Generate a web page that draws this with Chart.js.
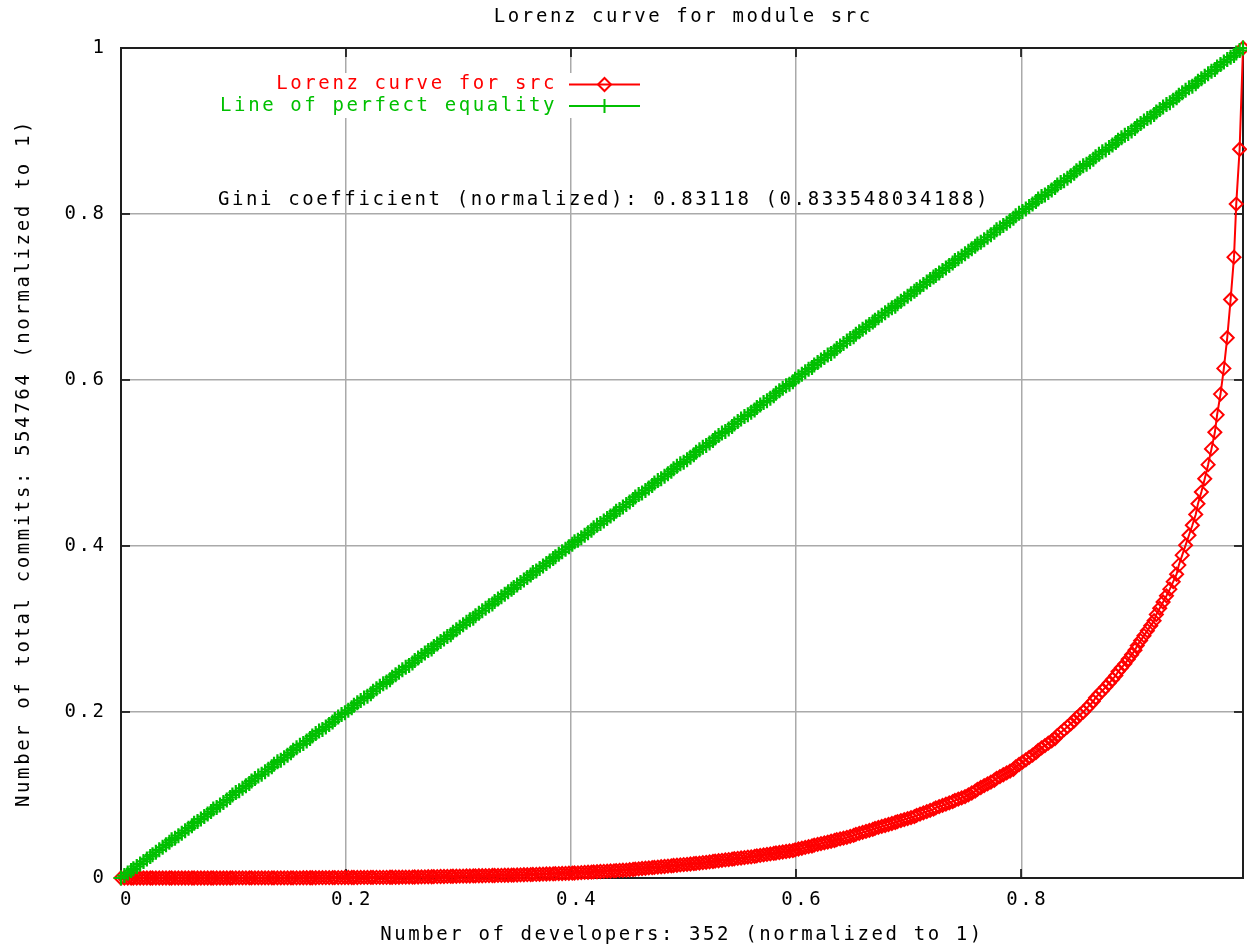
<!DOCTYPE html>
<html>
<head>
<meta charset="utf-8">
<script src="https://cdn.jsdelivr.net/npm/chart.js@4.4.1/dist/chart.umd.min.js"></script>
<style>
html,body{margin:0;padding:0;background:#ffffff;}
canvas{display:block;}
</style>
</head>
<body>
<canvas id="c" width="1247" height="946"></canvas>
<script>
// ---- data: developer rank share (x), cumulative commit share (Lorenz), equality line ----
const devShare = [
0.000,0.003,0.006,0.009,0.011,0.014,0.017,0.020,0.023,0.026,
0.028,0.031,0.034,0.037,0.040,0.043,0.045,0.048,0.051,0.054,
0.057,0.060,0.063,0.065,0.068,0.071,0.074,0.077,0.080,0.082,
0.085,0.088,0.091,0.094,0.097,0.099,0.102,0.105,0.108,0.111,
0.114,0.116,0.119,0.122,0.125,0.128,0.131,0.134,0.136,0.139,
0.142,0.145,0.148,0.151,0.153,0.156,0.159,0.162,0.165,0.168,
0.170,0.173,0.176,0.179,0.182,0.185,0.188,0.190,0.193,0.196,
0.199,0.202,0.205,0.207,0.210,0.213,0.216,0.219,0.222,0.224,
0.227,0.230,0.233,0.236,0.239,0.241,0.244,0.247,
0.250,0.253,0.256,0.259,0.261,0.264,0.267,0.270,0.273,0.276,
0.278,0.281,0.284,0.287,0.290,0.293,0.295,0.298,0.301,0.304,
0.307,0.310,0.313,0.315,0.318,0.321,0.324,0.327,0.330,0.332,
0.335,0.338,0.341,0.344,0.347,0.349,0.352,0.355,0.358,0.361,
0.364,0.366,0.369,0.372,0.375,0.378,0.381,0.384,0.386,0.389,
0.392,0.395,0.398,0.401,0.403,0.406,0.409,0.412,0.415,0.418,
0.420,0.423,0.426,0.429,0.432,0.435,0.438,0.440,0.443,0.446,
0.449,0.452,0.455,0.457,0.460,0.463,0.466,0.469,0.472,0.474,
0.477,0.480,0.483,0.486,0.489,0.491,0.494,0.497,
0.500,0.503,0.506,0.509,0.511,0.514,0.517,0.520,0.523,0.526,
0.528,0.531,0.534,0.537,0.540,0.543,0.545,0.548,0.551,0.554,
0.557,0.560,0.563,0.565,0.568,0.571,0.574,0.577,0.580,0.582,
0.585,0.588,0.591,0.594,0.597,0.599,0.602,0.605,0.608,0.611,
0.614,0.616,0.619,0.622,0.625,0.628,0.631,0.634,0.636,0.639,
0.642,0.645,0.648,0.651,0.653,0.656,0.659,0.662,0.665,0.668,
0.670,0.673,0.676,0.679,0.682,0.685,0.688,0.690,0.693,0.696,
0.699,0.702,0.705,0.707,0.710,0.713,0.716,0.719,0.722,0.724,
0.727,0.730,0.733,0.736,0.739,0.741,0.744,0.747,
0.750,0.753,0.756,0.759,0.761,0.764,0.767,0.770,0.773,0.776,
0.778,0.781,0.784,0.787,0.790,0.793,0.795,0.798,0.801,0.804,
0.807,0.810,0.813,0.815,0.818,0.821,0.824,0.827,0.830,0.832,
0.835,0.838,0.841,0.844,0.847,0.849,0.852,0.855,0.858,0.861,
0.864,0.866,0.869,0.872,0.875,0.878,0.881,0.884,0.886,0.889,
0.892,0.895,0.898,0.901,0.903,0.906,0.909,0.912,0.915,0.918,
0.920,0.923,0.926,0.929,0.932,0.935,0.938,0.940,0.943,0.946,
0.949,0.952,0.955,0.957,0.960,0.963,0.966,0.969,0.972,0.974,
0.977,0.980,0.983,0.986,0.989,0.991,0.994,0.997
];

const lorenzShare = [
0,0,0,0,0,0,0,0,0,0,
0,0,0,0,0,0,0,0,0,0,
0,0,0,0,0,0,0,0,0,0,
0,0,0,0,0,0.0001,0.0001,0.0001,0.0001,0.0001,
0.0001,0.0001,0.0001,0.0001,0.0001,0.0001,0.0001,0.0001,0.0001,0.0001,
0.0001,0.0001,0.0001,0.0002,0.0002,0.0002,0.0002,0.0003,0.0003,0.0003,
0.0003,0.0003,0.0004,0.0004,0.0004,0.0004,0.0005,0.0005,0.0005,0.0005,
0.0006,0.0006,0.0006,0.0006,0.0006,0.0007,0.0007,0.0007,0.0007,0.0008,
0.0008,0.0008,0.0008,0.0008,0.0009,0.0009,0.0009,0.0009,0.0010,0.0010,
0.0010,0.0011,0.0012,0.0012,0.0013,0.0014,0.0015,0.0015,0.0016,0.0017,
0.0018,0.0018,0.0019,0.0020,0.0021,0.0021,0.0022,0.0023,0.0024,0.0024,
0.0025,0.0026,0.0027,0.0027,0.0028,0.0029,0.0030,0.0030,0.0031,0.0032,
0.0033,0.0033,0.0034,0.0035,0.0036,0.0038,0.0039,0.0040,0.0041,0.0043,
0.0044,0.0045,0.0047,0.0048,0.0049,0.0050,0.0052,0.0053,0.0054,0.0055,
0.0057,0.0058,0.0060,0.0062,0.0065,0.0067,0.0069,0.0071,0.0073,0.0075,
0.0078,0.0080,0.0082,0.0084,0.0086,0.0089,0.0091,0.0093,0.0095,0.0099,
0.0102,0.0106,0.0110,0.0114,0.0117,0.0121,0.0125,0.0128,0.0132,0.0136,
0.0139,0.0143,0.0147,0.0151,0.0154,0.0158,0.0162,0.0165,0.0169,0.0173,
0.0176,0.0180,0.0185,0.0189,0.0194,0.0199,0.0204,0.0208,0.0213,0.0218,
0.0222,0.0227,0.0232,0.0236,0.0241,0.0246,0.0251,0.0255,0.0261,0.0267,
0.0272,0.0278,0.0284,0.0290,0.0296,0.0301,0.0307,0.0313,0.0319,0.0325,
0.0330,0.0339,0.0349,0.0358,0.0368,0.0377,0.0386,0.0396,0.0405,0.0415,
0.0424,0.0433,0.0443,0.0452,0.0462,0.0471,0.0480,0.0490,0.0502,0.0514,
0.0526,0.0538,0.0550,0.0561,0.0573,0.0585,0.0597,0.0609,0.0621,0.0633,
0.0645,0.0657,0.0669,0.0680,0.0692,0.0704,0.0716,0.0728,0.0740,0.0755,
0.0770,0.0785,0.0800,0.0815,0.0830,0.0845,0.0860,0.0875,0.0890,0.0905,
0.0920,0.0935,0.0950,0.0965,0.0980,0.1002,0.1024,0.1046,0.1068,0.1090,
0.1112,0.1134,0.1156,0.1178,0.1200,0.1222,0.1244,0.1266,0.1288,0.1310,
0.1339,0.1367,0.1396,0.1424,0.1453,0.1481,0.1510,0.1538,0.1567,0.1595,
0.1624,0.1652,0.1681,0.1716,0.1751,0.1787,0.1822,0.1858,0.1894,0.1929,
0.1965,0.2000,0.2043,0.2086,0.2129,0.2172,0.2215,0.2257,0.2300,0.2347,
0.2393,0.2440,0.2487,0.2533,0.2580,0.2635,0.2690,0.2745,0.2800,0.2860,
0.2920,0.2980,0.3040,0.3100,0.3175,0.3250,0.3325,0.3400,0.3480,0.3570,
0.3660,0.3770,0.3890,0.4010,0.4130,0.4250,0.4380,0.4510,0.4650,0.4810,
0.4980,0.5170,0.5370,0.5580,0.5830,0.6140,0.6510,0.6970,0.7480,0.8120,
0.8780,1.0000
];

const equalityShare = [
0.000,0.003,0.006,0.009,0.011,0.014,0.017,0.020,0.023,0.026,
0.028,0.031,0.034,0.037,0.040,0.043,0.046,0.048,0.051,0.054,
0.057,0.060,0.063,0.066,0.068,0.071,0.074,0.077,0.080,0.083,
0.085,0.088,0.091,0.094,0.097,0.100,0.103,0.105,0.108,0.111,
0.114,0.117,0.120,0.123,0.125,0.128,0.131,0.134,0.137,0.140,
0.142,0.145,0.148,0.151,0.154,0.157,0.160,0.162,0.165,0.168,
0.171,0.174,0.177,0.179,0.182,0.185,0.188,0.191,0.194,0.197,
0.199,0.202,0.205,0.208,0.211,0.214,0.217,0.219,0.222,0.225,
0.228,0.231,0.234,0.236,0.239,0.242,0.245,0.248,0.251,0.254,
0.256,0.259,0.262,0.265,0.268,0.271,0.274,0.276,0.279,0.282,
0.285,0.288,0.291,0.293,0.296,0.299,0.302,0.305,0.308,0.311,
0.313,0.316,0.319,0.322,0.325,0.328,0.330,
0.333,0.336,0.339,0.342,0.345,0.348,0.350,0.353,0.356,0.359,
0.362,0.365,0.368,0.370,0.373,0.376,0.379,0.382,0.385,0.387,
0.390,0.393,0.396,0.399,0.402,0.405,0.407,0.410,0.413,0.416,
0.419,0.422,0.425,0.427,0.430,0.433,0.436,0.439,0.442,0.444,
0.447,0.450,0.453,0.456,0.459,0.462,0.464,0.467,0.470,0.473,
0.476,0.479,0.481,0.484,0.487,0.490,0.493,0.496,0.499,0.501,
0.504,0.507,0.510,0.513,0.516,0.519,0.521,0.524,0.527,0.530,
0.533,0.536,0.538,0.541,0.544,0.547,0.550,0.553,0.556,0.558,
0.561,0.564,0.567,0.570,0.573,0.575,0.578,0.581,0.584,0.587,
0.590,0.593,0.595,0.598,0.601,0.604,0.607,0.610,0.613,0.615,
0.618,0.621,0.624,0.627,0.630,0.632,0.635,0.638,0.641,0.644,
0.647,0.650,0.652,0.655,0.658,0.661,0.664,
0.667,0.670,0.672,0.675,0.678,0.681,0.684,0.687,0.689,0.692,
0.695,0.698,0.701,0.704,0.707,0.709,0.712,0.715,0.718,0.721,
0.724,0.726,0.729,0.732,0.735,0.738,0.741,0.744,0.746,0.749,
0.752,0.755,0.758,0.761,0.764,0.766,0.769,0.772,0.775,0.778,
0.781,0.783,0.786,0.789,0.792,0.795,0.798,0.801,0.803,0.806,
0.809,0.812,0.815,0.818,0.821,0.823,0.826,0.829,0.832,0.835,
0.838,0.840,0.843,0.846,0.849,0.852,0.855,0.858,0.860,0.863,
0.866,0.869,0.872,0.875,0.877,0.880,0.883,0.886,0.889,0.892,
0.895,0.897,0.900,0.903,0.906,0.909,0.912,0.915,0.917,0.920,
0.923,0.926,0.929,0.932,0.934,0.937,0.940,0.943,0.946,0.949,
0.952,0.954,0.957,0.960,0.963,0.966,0.969,0.972,0.974,0.977,
0.980,0.983,0.986,0.989,0.991,0.994,0.997,1.000
];

const xTickLabels = ['0', '0.2', '0.4', '0.6', '0.8'];
const yTickLabels = ['0', '0.2', '0.4', '0.6', '0.8', '1'];
const seriesNames = ['Lorenz curve for src', 'Line of perfect equality'];
const chartTitle = 'Lorenz curve for module src';
const giniNote = 'Gini coefficient (normalized): 0.83118 (0.833548034188)';
const xAxisTitle = 'Number of developers: 352 (normalized to 1)';
const yAxisTitle = 'Number of total commits: 554764 (normalized to 1)';

// ---- styles ----
const RED = '#ff0000';
const GREEN = '#00c000';
const FONT_FAMILY = "'DejaVu Sans Mono', monospace";
const FONT_SIZE = 19;
const LETTER_SP = '2.6px';
const TICK_LEN = 9;

const n = Math.min(devShare.length, lorenzShare.length, equalityShare.length);
const lorenzPoints = [];
const equalityPoints = [];
for (let i = 0; i < n; i++) {
  lorenzPoints.push({x: devShare[i], y: lorenzShare[i]});
  equalityPoints.push({x: devShare[i], y: equalityShare[i]});
}

function drawMarker(ctx, style, x, y, r) {
  ctx.beginPath();
  if (style === 'rectRot') {
    ctx.moveTo(x - r, y); ctx.lineTo(x, y - r); ctx.lineTo(x + r, y); ctx.lineTo(x, y + r); ctx.closePath();
  } else {
    ctx.moveTo(x - r, y); ctx.lineTo(x + r, y); ctx.moveTo(x, y - r); ctx.lineTo(x, y + r);
  }
  ctx.stroke();
}

const decor = {
  id: 'decor',
  beforeDraw(chart) { chart.ctx.letterSpacing = LETTER_SP; },
  beforeDatasetsDraw(chart) {
    const {ctx, chartArea: a, scales} = chart;
    ctx.save();
    // opaque key box (hides grid behind the key)
    ctx.fillStyle = '#ffffff';
    ctx.fillRect(208, 73, 447, 45);
    // inward tick marks on all four sides
    ctx.strokeStyle = '#000000';
    ctx.lineWidth = 1.5;
    ctx.beginPath();
    scales.x.ticks.forEach(t => {
      const p = Math.round(scales.x.getPixelForValue(t.value));
      ctx.moveTo(p, a.bottom); ctx.lineTo(p, a.bottom - TICK_LEN);
      ctx.moveTo(p, a.top); ctx.lineTo(p, a.top + TICK_LEN);
    });
    scales.y.ticks.forEach(t => {
      const p = Math.round(scales.y.getPixelForValue(t.value));
      ctx.moveTo(a.left, p); ctx.lineTo(a.left + TICK_LEN, p);
      ctx.moveTo(a.right, p); ctx.lineTo(a.right - TICK_LEN, p);
    });
    ctx.stroke();
    // border
    ctx.strokeStyle = '#1e1e1e';
    ctx.lineWidth = 2;
    ctx.strokeRect(a.left, a.top, a.right - a.left, a.bottom - a.top);
    ctx.restore();
  },
  afterDraw(chart) {
    const {ctx, chartArea: a} = chart;
    ctx.save();
    ctx.letterSpacing = LETTER_SP;
    ctx.font = FONT_SIZE + 'px ' + FONT_FAMILY;
    ctx.textBaseline = 'middle';
    // title
    ctx.fillStyle = '#000000';
    ctx.textAlign = 'center';
    ctx.fillText(chartTitle, (a.left + a.right) / 2 + 1.3, 17);
    // gini note
    ctx.textAlign = 'left';
    ctx.fillText(giniNote, 218, 200.5);
    // key
    const rows = [
      {name: seriesNames[0], color: RED, style: 'rectRot', y: 84.5, r: 6.5},
      {name: seriesNames[1], color: GREEN, style: 'cross', y: 106, r: 7}
    ];
    rows.forEach(row => {
      ctx.fillStyle = row.color;
      ctx.textAlign = 'right';
      ctx.fillText(row.name, 557, row.y);
      ctx.strokeStyle = row.color;
      ctx.lineWidth = 2;
      ctx.beginPath();
      ctx.moveTo(569, row.y); ctx.lineTo(640, row.y);
      ctx.stroke();
      drawMarker(ctx, row.style, 604.5, row.y, row.r);
    });
    ctx.restore();
  }
};

const tickFont = {family: FONT_FAMILY, size: FONT_SIZE};

new Chart(document.getElementById('c'), {
  type: 'scatter',
  data: {
    datasets: [
      {
        label: seriesNames[0],
        data: lorenzPoints,
        showLine: true,
        order: 1,
        borderColor: RED,
        borderWidth: 2,
        pointStyle: 'rectRot',
        pointRadius: 6.5,
        pointHoverRadius: 6.5,
        pointBorderWidth: 2,
        pointBorderColor: RED,
        pointBackgroundColor: 'rgba(255,255,255,0)',
        tension: 0,
        clip: 10
      },
      {
        label: seriesNames[1],
        data: equalityPoints,
        showLine: true,
        order: 0,
        borderColor: GREEN,
        borderWidth: 2,
        pointStyle: 'cross',
        pointRadius: 7.5,
        pointHoverRadius: 7.5,
        pointBorderWidth: 2.2,
        pointBorderColor: GREEN,
        pointBackgroundColor: GREEN,
        tension: 0,
        clip: 10
      }
    ]
  },
  options: {
    responsive: false,
    animation: false,
    devicePixelRatio: 1,
    events: [],
    layout: {autoPadding: false, padding: {top: 48, right: 4, bottom: 0, left: 0}},
    plugins: {
      legend: {display: false},
      tooltip: {enabled: false},
      title: {display: false}
    },
    scales: {
      x: {
        type: 'linear',
        position: 'bottom',
        min: 0,
        max: devShare[devShare.length - 1],
        afterFit(s) { s.height = 68; },
        ticks: {
          stepSize: 0.2, includeBounds: false, padding: 11, labelOffset: 6,
          color: '#000000', font: tickFont, maxRotation: 0, autoSkip: false,
          callback: (v, i) => xTickLabels[i] !== undefined ? xTickLabels[i] : ''
        },
        grid: {color: '#aaaaaa', lineWidth: 1.5, drawTicks: false},
        border: {display: false},
        title: {display: true, text: xAxisTitle, color: '#000000', font: tickFont, padding: {top: 0, bottom: 0}}
      },
      y: {
        type: 'linear',
        position: 'left',
        min: 0,
        max: 1,
        afterFit(s) { s.width = 121; },
        ticks: {
          stepSize: 0.2, padding: 14.5, color: '#000000', font: tickFont,
          callback: (v, i) => yTickLabels[i] !== undefined ? yTickLabels[i] : ''
        },
        grid: {color: '#aaaaaa', lineWidth: 1.5, drawTicks: false},
        border: {display: false},
        title: {display: true, text: yAxisTitle, color: '#000000', font: tickFont, padding: {top: 12.5, bottom: 0}}
      }
    }
  },
  plugins: [decor]
});
</script>
</body>
</html>
